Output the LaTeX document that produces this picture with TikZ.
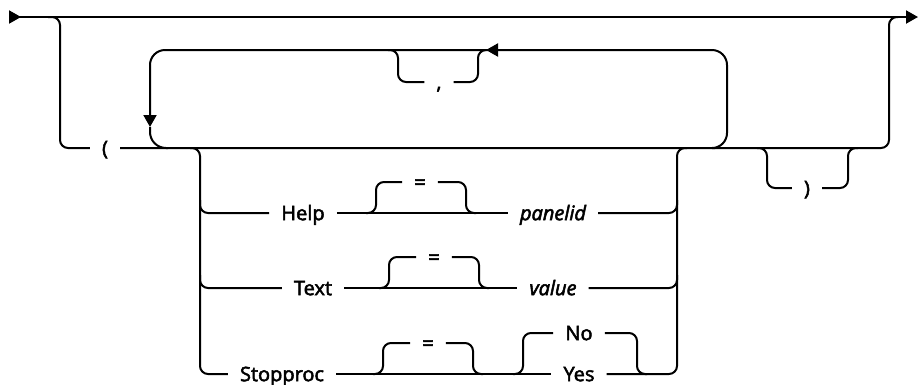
\documentclass[tikz,border=0pt]{standalone}
\usepackage{fontspec}
\setmainfont{Open Sans}[FakeBold=2.6]
\usetikzlibrary{arrows.meta,positioning}

\begin{document}
\begin{tikzpicture}[x=1pt, y=-1pt,
  font=\fontsize{20}{24}\selectfont,
  rail/.style={line width=2pt, rounded corners=8pt},
  loopline/.style={rail, rounded corners=15pt},
  tip/.style={-{Triangle[length=12pt,width=13pt]}},
  kw/.style={inner xsep=12pt, inner ysep=0pt, text height=14.3pt, text depth=0pt},
  var/.style={kw, font=\fontsize{20}{24}\selectfont\itshape}
]
\useasboundingbox (0,0) rectangle (918,384);

% Main line
\coordinate (start) at (9,17);
\coordinate (end) at (918,17);
\draw[rail, tip] (start) -- ++(12,0);
\draw[rail, tip] (start) -- (end);

% Optional group, opened by "("
\node[kw] (lpar) at (105,148) {(};
\draw[rail] (48,17) -| (60,148) -- (lpar.west);
\draw[rail] (lpar.east) -| (889,17) -- (898,17);

% Repeat loop with separator ","
\coordinate (rep) at (486,50);
\coordinate (repdown) at (150,127);
\node[kw] (comma) at (439,82) {,};
\draw[loopline, tip] (715,148) -| (727,50) -- (rep);
\draw[loopline, tip] (rep) -| (repdown);
\draw[rail, rounded corners=16pt] (repdown) |- (168,148);
\draw[rail] (388,50) -| (398,82) -- (comma.west);
\draw[rail] (comma.east) -| (478,50) -- (488,50);

% Row Help
\node[kw] (help) at (303,213) {Help};
\node[kw] (eqh) at (420,182) {=};
\node[var] (panelid) at (553,213) {panelid};
\draw[rail] (200,200) |- (help.west);
\draw[rail] (help) -- (panelid);
\draw[rail] (366,213) -| (376,182) -- (eqh.west);
\draw[rail] (eqh.east) -| (466,213) -- (476,213);
\draw[rail] (panelid.east) -| (677,200);

% Row Text
\node[kw] (txt) at (313,288) {Text};
\node[kw] (eqt) at (434,257) {=};
\node[var] (value) at (553,288) {value};
\draw[rail] (200,275) |- (txt.west);
\draw[rail] (txt) -- (value);
\draw[rail] (379,288) -| (389,257) -- (eqt.west);
\draw[rail] (eqt.east) -| (479,288) -- (489,288);
\draw[rail] (value.east) -| (677,275);

% Row Stopproc
\node[kw] (stop) at (282,374) {Stopproc};
\node[kw] (eqs) at (428,343) {=};
\node[kw] (yes) at (579,374) {Yes};
\node[kw] (no) at (579,333) {No};
\draw[rail] (190,148) -| (200,374) -- (stop.west);
\draw[rail] (stop) -- (yes);
\draw[rail] (373,374) -| (383,343) -- (eqs.west);
\draw[rail] (eqs.east) -| (473,374) -- (483,374);
\draw[rail] (513,374) -| (523,333) -- (no.west);
\draw[rail] (no.east) -| (637,374) -- (647,374);
\draw[rail] (yes.east) -| (677,148) -- (687,148);

% Optional ")"
\node[kw] (rpar) at (807,188) {)};
\draw[rail] (757,148) -| (767,188) -- (rpar.west);
\draw[rail] (rpar.east) -| (848,148) -- (858,148);
\end{tikzpicture}
\end{document}
